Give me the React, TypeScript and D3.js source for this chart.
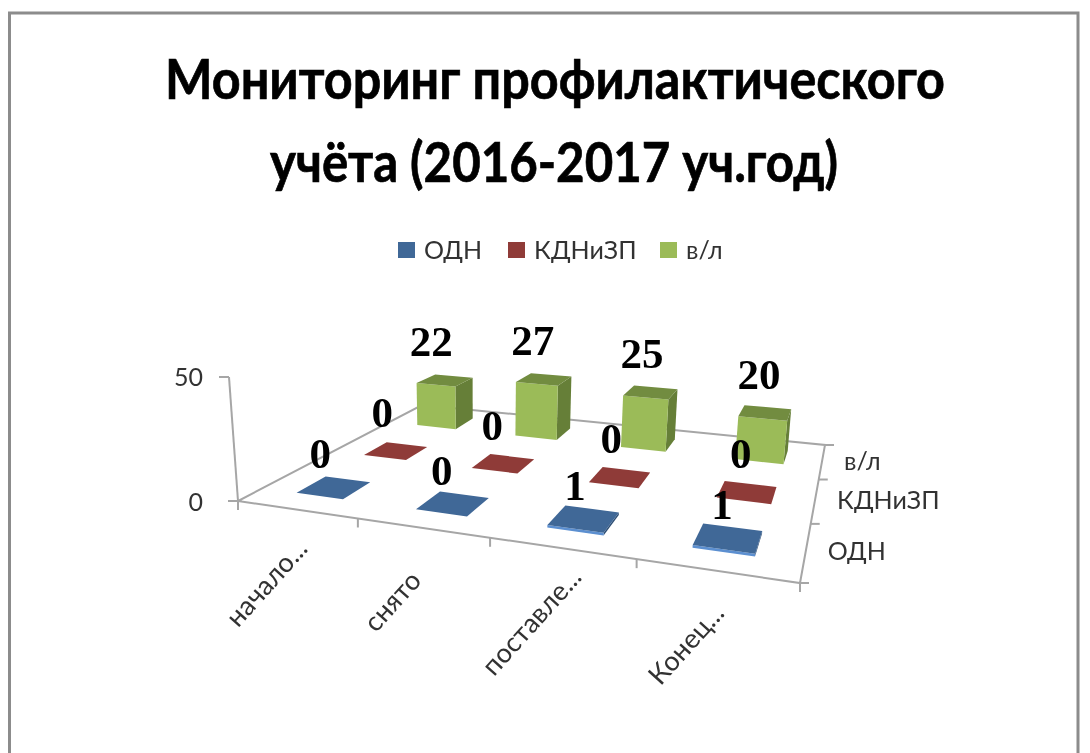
import React from "react";
import * as d3 from "d3";

const titleLines = ["Мониторинг профилактического", "учёта (2016-2017 уч.год)"];
const categories = ["начало...", "снято", "поставле...", "Конец..."];
const seriesNames = ["ОДН", "КДНиЗП", "в/л"];
const valuesOdn = [0, 0, 1, 1];
const valuesKdn = [0, 0, 0, 0];
const valuesVl = [22, 27, 25, 20];
const valueTicks = [0, 50];
const seriesColors = [
  { legend: "#3f6797", front: "#5b8fd0", side: "#2f4f75", top: "#3f6797" },
  { legend: "#8f3b38", front: "#8f3b38", side: "#70302e", top: "#8f3b38" },
  { legend: "#9bbb59", front: "#9bbb59", side: "#667f38", top: "#728c40" },
];

type P = [number, number];
const quad: P[] = [[238, 501], [800, 583], [825, 445], [422, 405]];

function homography(q: P[]) {
  const [[x0, y0], [x1, y1], [x2, y2], [x3, y3]] = q;
  const dx1 = x1 - x2, dx2 = x3 - x2, sx = x0 - x1 + x2 - x3;
  const dy1 = y1 - y2, dy2 = y3 - y2, sy = y0 - y1 + y2 - y3;
  const det = dx1 * dy2 - dx2 * dy1;
  const g = (sx * dy2 - dx2 * sy) / det;
  const h = (dx1 * sy - sx * dy1) / det;
  const a = x1 - x0 + g * x1, b = x3 - x0 + h * x3;
  const d = y1 - y0 + g * y1, e = y3 - y0 + h * y3;
  return (u: number, v: number) => {
    const w = g * u + h * v + 1;
    return { x: (a * u + b * v + x0) / w, y: (d * u + e * v + y0) / w, w };
  };
}
const floor = homography(quad);
const uScale = d3.scaleBand<string>().domain(categories).range([0, 1]).paddingInner(0.6).paddingOuter(0.3);
const vScale = d3.scaleBand<string>().domain(seriesNames).range([0, 1]).paddingInner(0.6).paddingOuter(0.3);
const zScale = d3.scaleLinear().domain([0, 50]).range([0, 124]);

function project(u: number, v: number, z: number): P {
  const f = floor(u, v);
  const h = zScale(z) / f.w;
  return [f.x + (f.x - 480) * 0.00028 * h, f.y - h];
}
const path = (pts: P[]) => "M" + pts.map((p) => p.map((n) => n.toFixed(1)).join(",")).join("L") + "Z";
const gray = "#a6a6a6";
const allValues = [valuesOdn, valuesKdn, valuesVl];
const sans = "Lato, 'Open Sans', sans-serif";

export default function App() {
  const uEdges = d3.range(categories.length + 1).map((i) => i / categories.length);
  const vEdges = d3.range(seriesNames.length + 1).map((i) => i / seriesNames.length);
  const legendX = [398, 508, 660];
  return (
    <svg width={1090} height={753} style={{ position: "absolute", left: 0, top: 0, background: "#fff" }}>
      <defs>
        <filter id="soft" x="-5%" y="-5%" width="110%" height="110%">
          <feGaussianBlur stdDeviation="0.6" />
        </filter>
      </defs>
      <g filter="url(#soft)">
        <path d="M9.5,753V13H1078V753" fill="none" stroke="#8c8c8c" strokeWidth={3} />
        {titleLines.map((t, i) => (
          <text key={t} x={[555, 554][i]} y={[99, 182][i]} textAnchor="middle" fontFamily={sans} fontWeight={700}
            fontSize={56} textLength={[780, 568][i]} lengthAdjust="spacingAndGlyphs" fill="#000" stroke="#000" strokeWidth={0.7}>{t}</text>
        ))}
        {seriesNames.map((s, i) => (
          <g key={s}>
            <rect x={legendX[i]} y={242} width={17} height={16} fill={seriesColors[i].legend} />
            <text x={legendX[i] + 26} y={259} fontFamily={sans} fontSize={25} fill="#333">{s}</text>
          </g>
        ))}

        <g stroke={gray} strokeWidth={2} fill="none">
          <path d={path([project(0, 0, 0), project(1, 0, 0), project(1, 1, 0), project(0, 1, 0)])} />
          <line x1={quad[0][0]} y1={quad[0][1]} x2={229} y2={377} />
          <line x1={229} y1={377} x2={219} y2={377} />
          <line x1={238} y1={501} x2={228} y2={501} />
          {uEdges.map((u) => {
            const [x, y] = project(u, 0, 0);
            return <line key={u} x1={x} y1={y} x2={x} y2={y + 9} />;
          })}
          {vEdges.map((v) => {
            const [x, y] = project(1, v, 0);
            return <line key={v} x1={x} y1={y} x2={x + 9} y2={y} />;
          })}
        </g>

        {valueTicks.map((t, i) => (
          <text key={t} x={203} y={[511, 386][i]} textAnchor="end" fontFamily={sans} fontSize={25} fill="#333">{t}</text>
        ))}
        {categories.map((c) => {
          const [x, y] = project(uScale(c)! + uScale.bandwidth() / 2, 0, 0);
          return (
            <text key={c} transform={`translate(${x - 28},${y + 75}) rotate(-48)`} textAnchor="middle" dominantBaseline="middle"
              fontFamily={sans} fontSize={27} fill="#333">{c}</text>
          );
        })}
        {seriesNames.map((s) => {
          const [x, y] = project(1, vScale(s)! + vScale.bandwidth() / 2, 0);
          return (
            <text key={s} x={x + 22} y={y + 9} fontFamily={sans} fontSize={25} fill="#333">{s}</text>
          );
        })}

        {[2, 1, 0].map((si) =>
          categories.map((c, ci) => {
            const u0 = uScale(c)!, u1 = u0 + uScale.bandwidth();
            const v0 = vScale(seriesNames[si])!, v1 = v0 + vScale.bandwidth();
            const z = allValues[si][ci];
            const col = seriesColors[si];
            return (
              <g key={c + si}>
                <path d={path([project(u1, v0, 0), project(u1, v1, 0), project(u1, v1, z), project(u1, v0, z)])} fill={col.side} />
                <path d={path([project(u0, v0, 0), project(u1, v0, 0), project(u1, v0, z), project(u0, v0, z)])} fill={col.front} />
                <path d={path([project(u0, v0, z), project(u1, v0, z), project(u1, v1, z), project(u0, v1, z)])} fill={col.top} />
              </g>
            );
          })
        )}
        {[2, 1, 0].map((si) =>
          categories.map((c, ci) => {
            const u = uScale(c)! + uScale.bandwidth() / 2;
            const v = vScale(seriesNames[si])! + vScale.bandwidth() / 2;
            const z = allValues[si][ci];
            const [x, y] = project(u, v, z);
            return (
              <text key={c + si} x={x - 15 + 10 * u} y={y - (si === 0 ? 19 : 24)} textAnchor="middle" fontFamily="'Liberation Serif', serif"
                fontWeight={700} fontSize={43} fill="#000">{z}</text>
            );
          })
        )}
      </g>
    </svg>
  );
}
